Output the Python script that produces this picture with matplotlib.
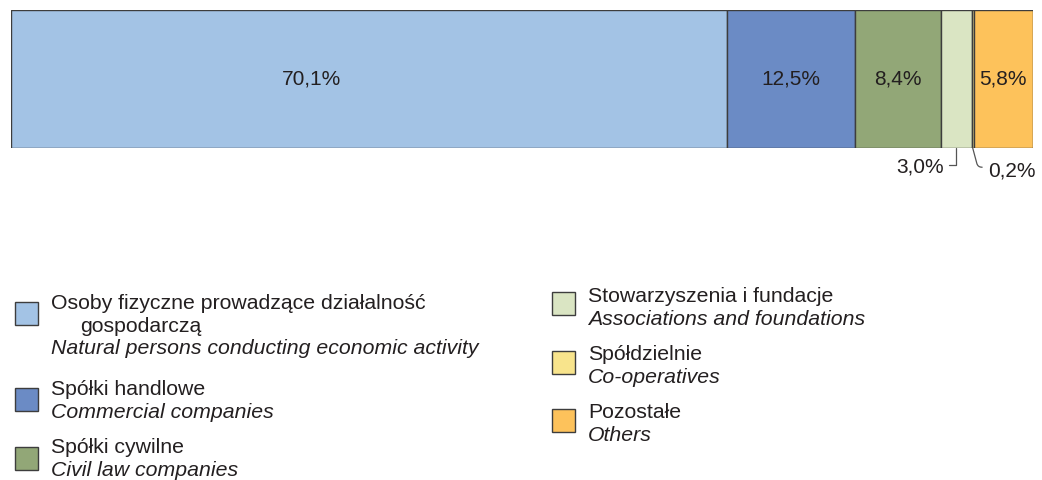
import matplotlib
matplotlib.use("Agg")
import matplotlib.pyplot as plt
from matplotlib.patches import Rectangle

# ---- data ----
categories_pl = [
    "Osoby fizyczne prowadzące działalność\ngospodarczą",
    "Spółki handlowe",
    "Spółki cywilne",
    "Stowarzyszenia i fundacje",
    "Spółdzielnie",
    "Pozostałe",
]
categories_en = [
    "Natural persons conducting economic activity",
    "Commercial companies",
    "Civil law companies",
    "Associations and foundations",
    "Co-operatives",
    "Others",
]
values = [70.1, 12.5, 8.4, 3.0, 0.2, 5.8]
colors = ["#A3C3E5", "#6B8BC5", "#92A777", "#DAE5C3", "#F8E48C", "#FDC25B"]

plt.rcParams['font.family'] = ['Liberation Sans', 'DejaVu Sans']
TXT = "#231F20"
FS = 15
FS_LEG = 15.3

W, H = 1042, 480
fig = plt.figure(figsize=(W / 100, H / 100), dpi=100)

# ---- stacked bar ----
ax = fig.add_axes([11 / W, 1 - 148 / H, 1022 / W, 138 / H])
left = 0.0
centers = []
for v, c in zip(values, colors):
    ax.barh(0, v, left=left, height=1.0, color=c, edgecolor="#3d3d3d", linewidth=1.0)
    centers.append(left + v / 2)
    left += v
ax.set_xlim(0, 100)
ax.set_ylim(-0.5, 0.5)
ax.axis("off")

def fmt(v):
    return f"{v:.1f}".replace(".", ",") + "%"

for i, (v, cx) in enumerate(zip(values, centers)):
    if i == 3:
        ax.annotate(fmt(v), xy=(cx, -0.5), xycoords="data",
                    xytext=(-12, -19), textcoords="offset pixels",
                    ha="right", va="center", fontsize=FS, color=TXT,
                    arrowprops=dict(arrowstyle="-", color="#555555", lw=0.9,
                                    connectionstyle="angle,angleA=0,angleB=90,rad=0",
                                    relpos=(1.0, 0.62), shrinkA=1, shrinkB=0))
    elif i == 4:
        ax.annotate(fmt(v), xy=(cx, -0.5), xycoords="data",
                    xytext=(15, -23), textcoords="offset pixels",
                    ha="left", va="center", fontsize=FS, color=TXT,
                    arrowprops=dict(arrowstyle="-", color="#555555", lw=0.9,
                                    connectionstyle="angle,angleA=0,angleB=-75,rad=4",
                                    relpos=(0.0, 0.7), shrinkA=2, shrinkB=0))
    else:
        dx = -58 if i == 0 else 0
        ax.annotate(fmt(v), xy=(cx, 0), xycoords="data",
                    xytext=(dx, 0), textcoords="offset pixels",
                    ha="center", va="center", fontsize=FS, color=TXT)

# ---- legend (pixel layout) ----
lg = fig.add_axes([0, 0, 1, 1])
lg.set_xlim(0, W)
lg.set_ylim(H, 0)
lg.axis("off")

# (square x, square top, text x, first baseline)
layout = [
    (15, 302, 51, 309),
    (15, 388, 51, 395),
    (15, 447, 51, 453),
    (552, 292, 588, 302),
    (552, 351, 588, 360),
    (552, 409, 588, 418),
]
step = 22.7
sq = 22.5
for (sx, sy, tx, by), pl, en, c in zip(layout, categories_pl, categories_en, colors):
    lg.add_patch(Rectangle((sx, sy), sq, sq, facecolor=c, edgecolor="#3d3d3d", lw=1.0))
    lines = pl.split("\n")
    y = by
    for k, ln in enumerate(lines):
        lg.text(tx + (29 if k > 0 else 0), y, ln, fontsize=FS_LEG, color=TXT, va="baseline", ha="left")
        y += step
    lg.text(tx, y, en, fontsize=FS_LEG, color=TXT, va="baseline", ha="left", style="italic")

fig.savefig("out.png", dpi=100)
